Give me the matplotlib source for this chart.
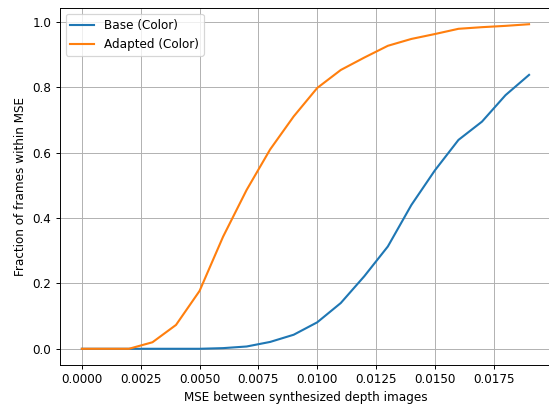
import numpy as np
import matplotlib
matplotlib.use("Agg")
import matplotlib.pyplot as plt

mse = [0.000, 0.001, 0.002, 0.003, 0.004, 0.005, 0.006, 0.007, 0.008, 0.009,
       0.010, 0.011, 0.012, 0.013, 0.014, 0.015, 0.016, 0.017, 0.018, 0.019]
base_color = [0.0, 0.0, 0.0, 0.0, 0.0, 0.0, 0.002, 0.007, 0.021, 0.043,
              0.081, 0.14, 0.222, 0.313, 0.44, 0.546, 0.639, 0.695, 0.776, 0.838]
adapted_color = [0.0, 0.0, 0.0, 0.02, 0.073, 0.177, 0.343, 0.486, 0.61, 0.711,
                 0.798, 0.853, 0.891, 0.927, 0.948, 0.963, 0.979, 0.984, 0.988, 0.993]

# reference looks like a default 10pt figure rendered at ~86.5 dpi
DPI = 86.5
fig = plt.figure(figsize=(549 / DPI, 404 / DPI), dpi=DPI)
# tightly cropped original: right spine falls just outside the image
ax = fig.add_axes([0.1084, 0.0965, 0.896, 0.8837])
ax.plot(mse, base_color, color="#1f77b4", linewidth=1.75, label="Base (Color)")
ax.plot(mse, adapted_color, color="#ff7f0e", linewidth=1.75, label="Adapted (Color)")

ax.set_xlabel("MSE between synthesized depth images")
ax.set_ylabel("Fraction of frames within MSE")
ax.set_xticks(np.arange(0, 0.0176, 0.0025))
ax.grid(True)
ax.legend(loc="upper left")

fig.savefig("out.png", dpi=DPI)
